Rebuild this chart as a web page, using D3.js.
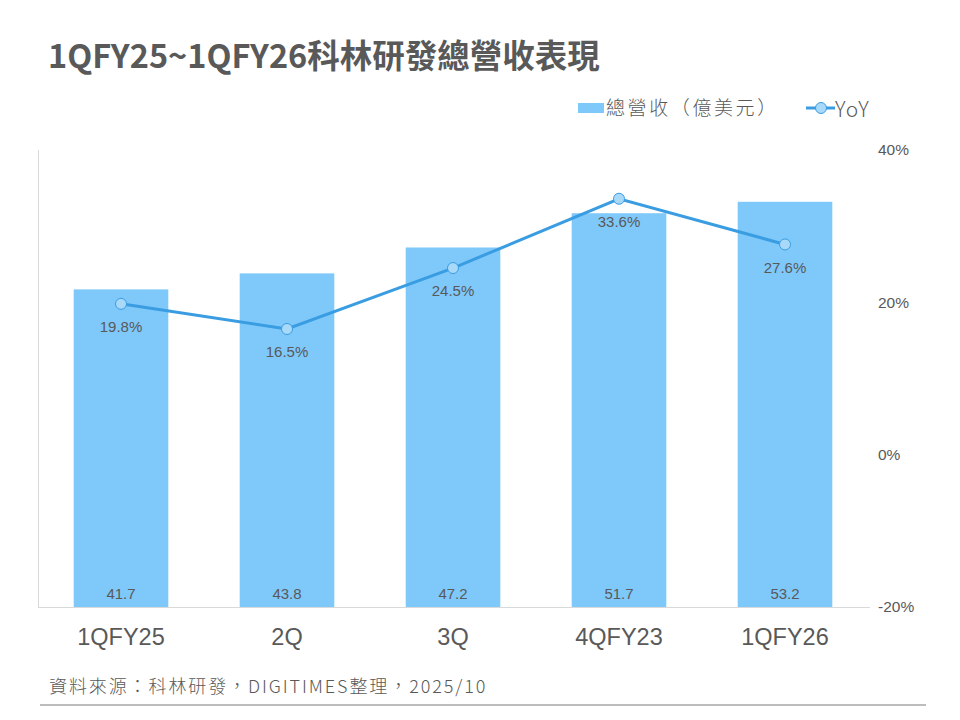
<!DOCTYPE html>
<html>
<head>
<meta charset="utf-8">
<title>科林研發總營收</title>
<script src="https://cdn.jsdelivr.net/npm/d3@7/dist/d3.min.js"></script>
<style>
    body { margin:0; background:#fff; }
    text { font-family:"Noto Sans CJK TC", "Noto Sans", sans-serif; fill:#595959; }
    .num { font-family:"Liberation Sans", Arial, sans-serif; }
</style>
</head>
<body>
<svg id="svg" width="960" height="720"></svg>
<script>

var categories = ['1QFY25', '2Q', '3Q', '4QFY23', '1QFY26'];
var revenue = [41.7, 43.8, 47.2, 51.7, 53.2];
var yoy = [19.8, 16.5, 24.5, 33.6, 27.6];
var yoyTicks = [-20, 0, 20, 40];

var barColor = '#7fc8fa', lineColor = '#3a9de2', dotFill = '#a9d9f9';

var svg = d3.select('#svg');

var x = d3.scaleBand().domain(categories).range([38, 868])
    .paddingInner(0.43).paddingOuter(0.215);
var yL = d3.scaleLinear().domain([0, 60]).range([607, 150]);
var yR = d3.scaleLinear().domain([-20, 40]).range([607, 150]);

// title
svg.append('text')
    .attr('x', 48).attr('y', 68)
    .style('font-size', '32.5px').style('font-weight', 'bold')
    .text('1QFY25~1QFY26科林研發總營收表現');

// legend
var lg = svg.append('g');
lg.append('rect').attr('x', 578).attr('y', 103).attr('width', 26).attr('height', 10).attr('fill', barColor);
lg.append('text').attr('x', 606).attr('y', 108).attr('dy', '0.35em')
    .style('font-size', '19px').style('font-weight', 300).style('letter-spacing', '2.6px')
    .text('總營收（億美元）');
lg.append('line').attr('x1', 806).attr('x2', 835).attr('y1', 108).attr('y2', 108)
    .attr('stroke', lineColor).attr('stroke-width', 3);
lg.append('circle').attr('cx', 821).attr('cy', 108).attr('r', 5.5)
    .attr('fill', dotFill).attr('stroke', lineColor).attr('stroke-width', 1);
lg.append('text').attr('x', 835).attr('y', 110).attr('dy', '0.35em')
    .style('font-size', '21px').style('font-weight', 300).style('letter-spacing', '1px')
    .text('YoY');

// axes lines
svg.append('line').attr('x1', 38.5).attr('x2', 38.5).attr('y1', 150).attr('y2', 607)
    .attr('stroke', '#d9d9d9');
svg.append('line').attr('x1', 38).attr('x2', 870).attr('y1', 607.5).attr('y2', 607.5)
    .attr('stroke', '#d9d9d9');

// right axis
var ra = svg.append('g').attr('transform', 'translate(870,0)')
    .call(d3.axisRight(yR).tickValues(yoyTicks).tickSize(0).tickPadding(8)
        .tickFormat(function(d){ return d + '%'; }));
ra.select('.domain').remove();
ra.selectAll('text').style('font-size', '15.5px').attr('fill', '#666')
    .style('font-family', '"Liberation Sans", Arial, sans-serif');

// category axis
var ca = svg.append('g').attr('transform', 'translate(0,607)')
    .call(d3.axisBottom(x).tickSize(0).tickPadding(21));
ca.select('.domain').remove();
ca.selectAll('text').style('font-size', '23.5px')
    .style('font-family', '"Liberation Sans", Arial, sans-serif').attr('fill', '#666');

// bars
svg.selectAll('rect.bar').data(revenue).enter().append('rect')
    .attr('class', 'bar')
    .attr('x', function(d, i){ return x(categories[i]); })
    .attr('width', x.bandwidth())
    .attr('y', function(d){ return yL(d); })
    .attr('height', function(d){ return yL(0) - yL(d); })
    .attr('fill', barColor);

svg.selectAll('text.barlab').data(revenue).enter().append('text')
    .attr('class', 'barlab num')
    .attr('x', function(d, i){ return x(categories[i]) + x.bandwidth() / 2; })
    .attr('y', 594).attr('dy', '0.35em')
    .attr('text-anchor', 'middle')
    .style('font-size', '15px')
    .text(function(d){ return d.toFixed(1); });

// yoy line
var cx = function(d, i){ return x(categories[i]) + x.bandwidth() / 2; };
var line = d3.line().x(cx).y(function(d){ return yR(d); });
svg.append('path').datum(yoy).attr('d', line)
    .attr('fill', 'none').attr('stroke', lineColor).attr('stroke-width', 3);

svg.selectAll('circle.dot').data(yoy).enter().append('circle')
    .attr('class', 'dot')
    .attr('cx', cx).attr('cy', function(d){ return yR(d); }).attr('r', 5.5)
    .attr('fill', dotFill).attr('stroke', lineColor).attr('stroke-width', 1);

svg.selectAll('text.yoylab').data(yoy).enter().append('text')
    .attr('class', 'yoylab num')
    .attr('x', cx).attr('y', function(d){ return yR(d) + 23; }).attr('dy', '0.35em')
    .attr('text-anchor', 'middle')
    .style('font-size', '15px')
    .text(function(d){ return d.toFixed(1) + '%'; });

// source + rule
svg.append('text').attr('x', 49).attr('y', 687).attr('dy', '0.35em')
    .style('font-size', '18px').style('font-weight', 300).style('letter-spacing', '1.9px')
    .text('資料來源：科林研發，DIGITIMES整理，2025/10');
svg.append('line').attr('x1', 40).attr('x2', 926).attr('y1', 705).attr('y2', 705)
    .attr('stroke', '#a6a6a6').attr('stroke-width', 1.5);

</script>
</body>
</html>
